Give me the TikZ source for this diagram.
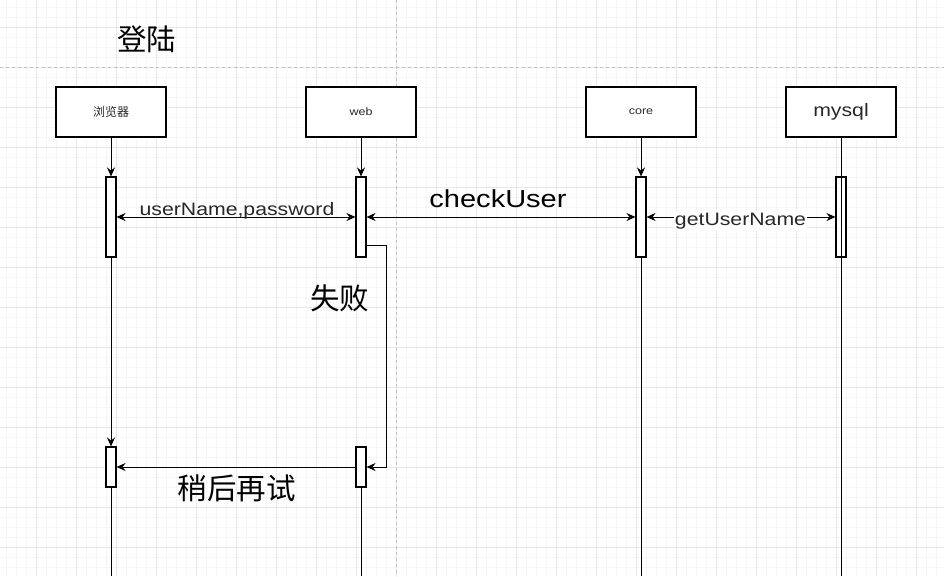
\documentclass[tikz,border=0pt]{standalone}
\usepackage{fontspec}
\setmainfont{Liberation Sans}[FakeStretch=1.18]
\newfontfamily\cjk{Noto Sans CJK SC}
\usetikzlibrary{arrows.meta}
\definecolor{gridminor}{RGB}{246,246,246}
\definecolor{gridmajor}{RGB}{232,232,232}
\definecolor{dashgray}{RGB}{192,192,192}
\definecolor{boxtext}{RGB}{40,40,40}
\tikzset{
  actor/.style={draw=black, line width=1.1pt, fill=white, minimum width=110pt, minimum height=50pt, inner sep=0pt, text=boxtext},
  activ/.style={draw=black, line width=1.1pt, fill=white, minimum width=10pt, minimum height=80pt, inner sep=0pt},
  activshort/.style={activ, minimum height=40pt},
  tipstyle/.tip={Stealth[length=9pt,width=8pt,inset=3pt]},
  lifeline/.style={line width=1pt, draw=black},
  msg/.style={line width=1pt, draw=black, -tipstyle},
  bimsg/.style={line width=1pt, draw=black, tipstyle-tipstyle},
  lab/.style={font=\fontsize{18}{21}\selectfont, text=boxtext, inner sep=0pt, anchor=base},
  biglab/.style={font=\fontsize{24.6}{28}\selectfont, text=black, inner sep=0pt, anchor=base},
  cjklab/.style={font=\cjk\fontsize{29.5}{33}\selectfont, text=black, inner sep=0pt, anchor=base},
}
\begin{document}
\begin{tikzpicture}[x=1pt,y=-1pt]
\useasboundingbox (0,0) rectangle (944,576);
\fill[white] (0,0) rectangle (944,576);
% grid
\foreach \gx in {6,16,...,936} \draw[gridminor, line width=1pt] (\gx,0) -- (\gx,576);
\foreach \gy in {7,17,...,567} \draw[gridminor, line width=1pt] (0,\gy) -- (944,\gy);
\foreach \gx in {36,76,...,916} \draw[gridmajor, line width=1pt] (\gx,0) -- (\gx,576);
\foreach \gy in {27,67,...,547} \draw[gridmajor, line width=1pt] (0,\gy) -- (944,\gy);
% dashed guides
\draw[dashgray, line width=1pt, dash pattern=on 3pt off 3pt] (0,67) -- (944,67);
\draw[dashgray, line width=1pt, dash pattern=on 3pt off 3pt] (396,0) -- (396,576);

% title
\node[cjklab] (title) at (146.5,50) {登陆};

% actors
\node[actor] (br) at (111,112) {\cjk\fontsize{12}{14}\selectfont 浏览器};
\node[actor] (wb) at (361,112) {\fontsize{10.6}{12}\selectfont web};
\node[actor] (co) at (641,112) {\fontsize{10.6}{12}\selectfont core};
\node[actor] (my) at (841,112) {\fontsize{18}{20}\selectfont mysql};

% activations
\node[activ] (brA1) at (111,217) {};
\node[activ] (wbA1) at (361,217) {};
\node[activ] (coA1) at (641,217) {};
\node[activ] (myA1) at (841,217) {};
\node[activshort] (brA2) at (111,467) {};
\node[activshort] (wbA2) at (361,467) {};

\coordinate (brEnd) at (111,576);
\coordinate (wbEnd) at (361,576);
\coordinate (coEnd) at (641,576);
\coordinate (myEnd) at (841,576);
\coordinate (selfStart) at (366,245);

% lifelines
\draw[msg] (br.south) -- (brA1.north);
\draw[msg] (wb.south) -- (wbA1.north);
\draw[msg] (co.south) -- (coA1.north);
\draw[msg] (brA1.south) -- (brA2.north);
\draw[lifeline] (brA2.south) -- (brEnd);
\draw[lifeline] (wbA2.south) -- (wbEnd);
\draw[lifeline] (coA1.south) -- (coEnd);
\draw[lifeline] (my.south) -- (myEnd);

% messages
\draw[bimsg] (brA1.east) -- (wbA1.west);
\draw[bimsg] (wbA1.east) -- (coA1.west);
\draw[bimsg] (coA1.east) -- (myA1.west);
\draw[msg] (selfStart) -- ++(20,0) |- (wbA2.east);
\draw[msg] (wbA2.west) -- (brA2.east);

% labels
\node[lab] (lUser) at (237,215) {userName,password};
\node[biglab] (lCheck) at (498,207.5) {checkUser};
\node[lab, fill=white, inner xsep=1pt, inner ysep=2pt] (lGet) at (740.5,225) {getUserName};
\node[cjklab] (lFail) at (339.5,309) {失败};
\node[cjklab] (lRetry) at (236.5,499) {稍后再试};
\end{tikzpicture}
\end{document}
